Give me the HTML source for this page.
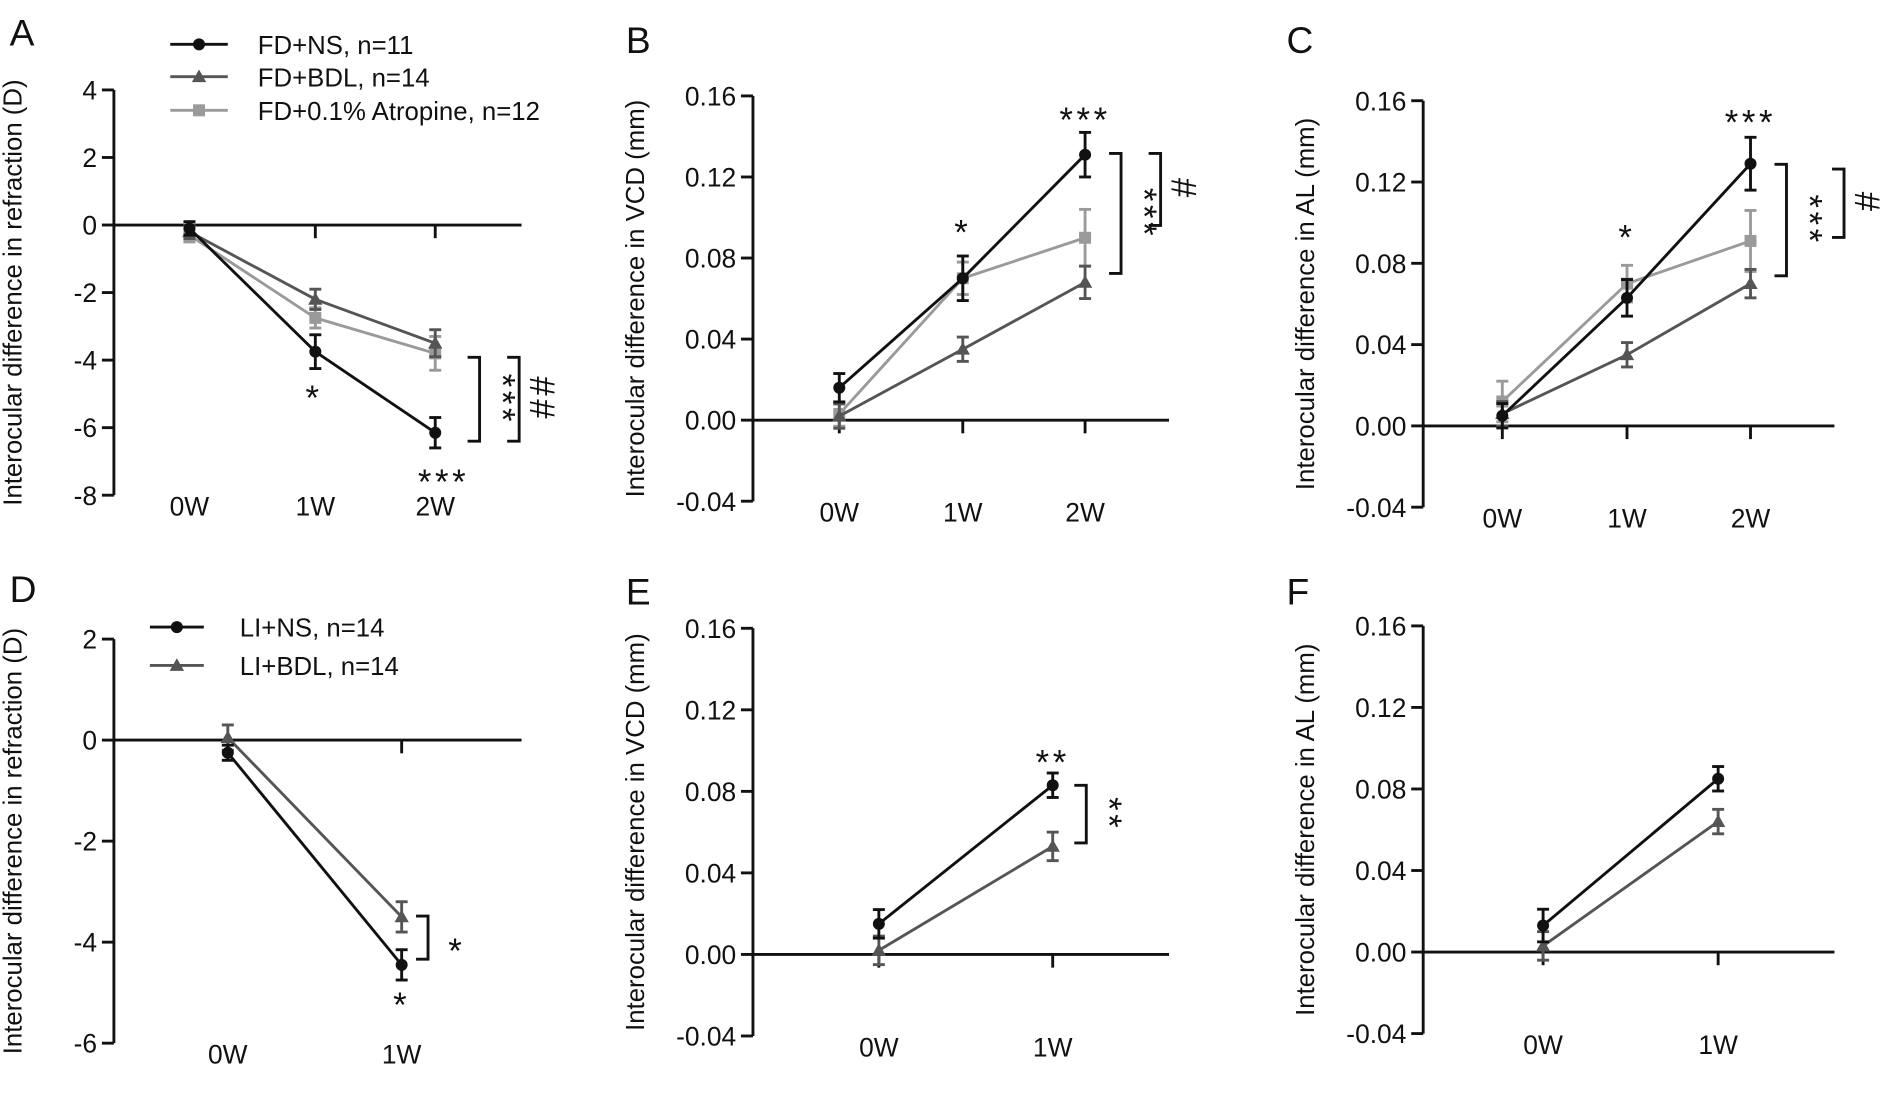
<!DOCTYPE html>
<html><head><meta charset="utf-8"><style>
html,body{margin:0;padding:0;background:#fff;}
svg{display:block;}
text{font-family:"Liberation Sans",Arial,sans-serif;fill:#111;}
</style></head><body>
<svg id="s" width="1880" height="1094" viewBox="0 0 1568 912.4" preserveAspectRatio="none" xmlns="http://www.w3.org/2000/svg"></svg>
<script>
const s=document.getElementById('s');let h='';
const C={ns:'#111',bdl:'#555',at:'#9a9a9a'};
const SW=2.4;
function mk(t,x,y,c){if(t=='ns')return `<circle cx="${x}" cy="${y}" r="5" fill="${c}"/>`;
if(t=='bdl')return `<polygon points="${x},${y-6} ${x+6},${y+4.5} ${x-6},${y+4.5}" fill="${c}"/>`;
return `<rect x="${x-5}" y="${y-5}" width="10" height="10" fill="${c}"/>`;}
function panel(o){
 const {ax,ytop,ybot,vmax,vmin,xend,cats,labs,ticks,fmt,title,letter,lx,ly,toff}=o;
 const Y=v=>ytop+(vmax-v)/(vmax-vmin)*(ybot-ytop);
 h+=`<text x="${lx}" y="${ly}" font-size="31">${letter}</text>`;
 h+=`<line x1="${ax}" y1="${ytop}" x2="${ax}" y2="${ybot}" stroke="#111" stroke-width="${SW}"/>`;
 ticks.forEach(v=>{const y=Y(v);h+=`<line x1="${ax-10}" y1="${y}" x2="${ax}" y2="${y}" stroke="#111" stroke-width="${SW}"/><text x="${ax-14}" y="${y+8}" font-size="22" text-anchor="end">${fmt(v)}</text>`;});
 const y0=Y(0);h+=`<line x1="${ax}" y1="${y0}" x2="${xend}" y2="${y0}" stroke="#111" stroke-width="${SW}"/>`;
 cats.forEach((x,i)=>{h+=`<line x1="${x}" y1="${y0}" x2="${x}" y2="${y0+11}" stroke="#111" stroke-width="${SW}"/><text x="${x}" y="${ybot+17}" font-size="22" text-anchor="middle">${labs[i]}</text>`;});
 const cy=(ytop+ybot)/2;
 h+=`<text transform="translate(${ax-toff},${cy}) rotate(-90)" font-size="21.5" text-anchor="middle">${title}</text>`;
 o.series.forEach(se=>{const c=C[se.t];
  const pts=se.v.map((v,i)=>[cats[i],Y(v)]);
  h+=`<polyline points="${pts.map(p=>p.join(',')).join(' ')}" fill="none" stroke="${c}" stroke-width="${SW}"/>`;
  pts.forEach((p,i)=>{const e=Math.abs(Y(se.v[i]+se.e[i])-p[1]);
   h+=`<line x1="${p[0]}" y1="${p[1]-e}" x2="${p[0]}" y2="${p[1]+e}" stroke="${c}" stroke-width="${SW}"/><line x1="${p[0]-5}" y1="${p[1]-e}" x2="${p[0]+5}" y2="${p[1]-e}" stroke="${c}" stroke-width="${SW}"/><line x1="${p[0]-5}" y1="${p[1]+e}" x2="${p[0]+5}" y2="${p[1]+e}" stroke="${c}" stroke-width="${SW}"/>`;
   h+=mk(se.t,p[0],p[1],c);});
 });
 (o.txt||[]).forEach(t=>{h+=`<text x="${t[0]}" y="${t[1]}" font-size="29" text-anchor="middle" letter-spacing="3">${t[2]}</text>`;});
 (o.br||[]).forEach(b=>{const[x,y1,y2,lab]=b;h+=`<polyline points="${x-10},${y1} ${x},${y1} ${x},${y2} ${x-10},${y2}" fill="none" stroke="#111" stroke-width="${SW}"/><text transform="translate(${x+9},${(y1+y2)/2}) rotate(90)" font-size="29" text-anchor="middle" letter-spacing="3">${lab}</text>`;});
}
const f0=v=>String(v), f2=v=>v.toFixed(2);
const RT='Interocular difference in refraction (D)';
panel({ax:95,ytop:75,ybot:413,vmax:4,vmin:-8,xend:435,cats:[158,263,363],labs:['0W','1W','2W'],ticks:[4,2,0,-2,-4,-6,-8],fmt:f0,title:RT,letter:'A',lx:8,ly:38,toff:77,
 series:[{t:'at',v:[-0.3,-2.75,-3.8],e:[0.2,0.3,0.5]},{t:'bdl',v:[-0.2,-2.2,-3.5],e:[0.2,0.3,0.4]},{t:'ns',v:[-0.1,-3.75,-6.15],e:[0.2,0.5,0.45]}],
 txt:[[262,342,'*'],[370,412,'***']],br:[[400,298,368,'***'],[433,298,368,'##']]});
panel({ax:628,ytop:80,ybot:418,vmax:0.16,vmin:-0.04,xend:975,cats:[700,803,905],labs:['0W','1W','2W'],ticks:[0.16,0.12,0.08,0.04,0,-0.04],fmt:f2,title:'Interocular difference in VCD (mm)',letter:'B',lx:522,ly:44,toff:91,
 series:[{t:'at',v:[0.003,0.07,0.09],e:[0.006,0.008,0.014]},{t:'bdl',v:[0.002,0.035,0.068],e:[0.006,0.006,0.008]},{t:'ns',v:[0.016,0.07,0.131],e:[0.007,0.011,0.011]}],
 txt:[[803,204,'*'],[905,110,'***']],br:[[935,128,228,'***'],[968,128,188,'#']]});
panel({ax:1187,ytop:84,ybot:423,vmax:0.16,vmin:-0.04,xend:1530,cats:[1253,1357,1460],labs:['0W','1W','2W'],ticks:[0.16,0.12,0.08,0.04,0,-0.04],fmt:f2,title:'Interocular difference in AL (mm)',letter:'C',lx:1073,ly:44,toff:91,
 series:[{t:'at',v:[0.012,0.07,0.091],e:[0.01,0.009,0.015]},{t:'bdl',v:[0.006,0.035,0.07],e:[0.006,0.006,0.007]},{t:'ns',v:[0.005,0.063,0.129],e:[0.006,0.009,0.013]}],
 txt:[[1357,208,'*'],[1460,112,'***']],br:[[1490,137,230,'***'],[1538,141,198,'#']]});
panel({ax:95,ytop:533,ybot:870,vmax:2,vmin:-6,xend:435,cats:[190,335],labs:['0W','1W'],ticks:[2,0,-2,-4,-6],fmt:f0,title:RT,letter:'D',lx:8,ly:502,toff:77,
 series:[{t:'bdl',v:[0.05,-3.5],e:[0.25,0.3]},{t:'ns',v:[-0.25,-4.45],e:[0.15,0.3]}],
 txt:[[335,848,'*'],[381,803,'*']],br:[[357,764,800,'']]});
panel({ax:628,ytop:524,ybot:864,vmax:0.16,vmin:-0.04,xend:975,cats:[733,878],labs:['0W','1W'],ticks:[0.16,0.12,0.08,0.04,0,-0.04],fmt:f2,title:'Interocular difference in VCD (mm)',letter:'E',lx:522,ly:504,toff:91,
 series:[{t:'bdl',v:[0.002,0.053],e:[0.007,0.007]},{t:'ns',v:[0.015,0.083],e:[0.007,0.006]}],
 txt:[[878,646,'**']],br:[[906,655,703,'**']]});
panel({ax:1187,ytop:522,ybot:862,vmax:0.16,vmin:-0.04,xend:1530,cats:[1287,1433],labs:['0W','1W'],ticks:[0.16,0.12,0.08,0.04,0,-0.04],fmt:f2,title:'Interocular difference in AL (mm)',letter:'F',lx:1073,ly:504,toff:91,
 series:[{t:'bdl',v:[0.003,0.064],e:[0.007,0.006]},{t:'ns',v:[0.013,0.085],e:[0.008,0.006]}]});
function leg(x1,x2,tx,y,t,label){const c=C[t];h+=`<line x1="${x1}" y1="${y}" x2="${x2}" y2="${y}" stroke="${c}" stroke-width="${SW}"/>`+mk(t,(x1+x2)/2,y,c)+`<text x="${tx}" y="${y+8}" font-size="21.5">${label}</text>`;}
leg(142,190,215,37,'ns','FD+NS, n=11');leg(142,190,215,64,'bdl','FD+BDL, n=14');leg(142,190,215,92,'at','FD+0.1% Atropine, n=12');
leg(125,170,200,523,'ns','LI+NS, n=14');leg(125,170,200,555,'bdl','LI+BDL, n=14');
s.innerHTML=h;
</script>
</body></html>
